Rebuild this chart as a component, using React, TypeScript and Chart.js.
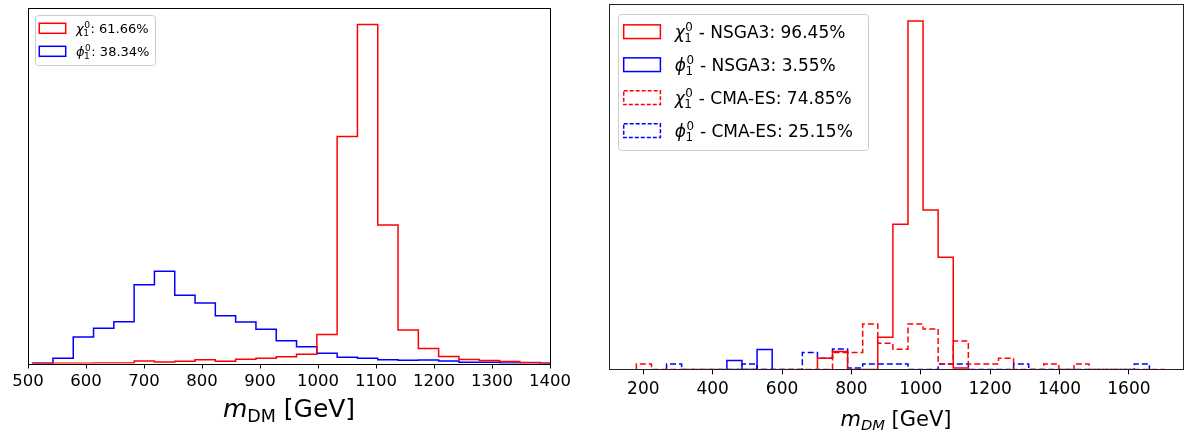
import React, { useEffect, useRef } from "react";
import { Chart, registerables } from "chart.js";

Chart.register(...registerables);

const FONT = '"DejaVu Sans", sans-serif';

// ---------- Left panel data ----------
const leftBinEdges = [508, 543, 578, 613, 648, 683, 718, 753, 788, 823, 858, 893, 928, 963, 998, 1033, 1068, 1103, 1138, 1173, 1208, 1243, 1278, 1313, 1348, 1383, 1418];
const leftChi = [0.3, 0.3, 0.3, 0.4, 0.6, 2.5, 1.5, 2.2, 3.8, 2.2, 4.2, 5.2, 6.8, 9.2, 29, 227, 339, 138.5, 33.5, 15, 7, 4, 3, 2, 1, 0.3];
const leftPhi = [0.3, 5.2, 26.5, 35.2, 41.8, 78.8, 92.2, 68.2, 60.5, 47.8, 41.5, 34.2, 22.8, 16.8, 10.2, 6.2, 5.2, 3.8, 3.2, 3.5, 2.5, 1.2, 1.2, 0.5, 0.5, 0.3];
const leftTicks = [500, 600, 700, 800, 900, 1000, 1100, 1200, 1300, 1400];
const leftSymbols = ["χ", "ϕ"];
const leftTexts = [": 61.66%", ": 38.34%"];

// ---------- Right panel data ----------
const rightBinEdges = [180, 223.5, 267, 310.5, 354, 397.5, 441, 484.5, 528, 571.5, 615, 658.5, 702, 745.5, 789, 832.5, 876, 919.5, 963, 1006.5, 1050, 1093.5, 1137, 1180.5, 1224, 1267.5, 1311, 1354.5, 1398, 1441.5, 1485, 1528.5, 1572, 1615.5, 1659, 1702.5];
const N = null;
const rightChiNsga = [N, N, N, N, N, N, N, N, N, N, N, N, 11.2, 17.8, 0, 0, 32.2, 145.2, 348.5, 159.5, 112.2, 1.5, N, N, N, N, N, N, N, N, N, N, N, N, N];
const rightPhiNsga = [N, N, N, N, N, N, 8.8, 0, 19.8, N, N, N, N, N, N, N, N, N, N, N, N, N, N, N, N, N, N, N, N, N, N, N, N, N, N];
const rightChiCma = [5.5, 0, 0, 0, 0, 0, 0, 0, 0, 0, 0, 0, 0, 16.8, 16.8, 45.5, 26.2, 20.2, 45.5, 40.5, 5.5, 28.5, 5.5, 5.5, 11.2, 0, 0, 5.5, 0, 5.5, 0, 0, 0, 0, 0];
const rightPhiCma = [N, N, 5.5, 0, 0, 0, 0, 5.5, 0, 0, 0, 16.8, 11.2, 20.5, 1.5, 5.5, 5.5, 5.5, 0, 0, 5.5, 5.5, 0, 0, 0, 5.5, 0, 0, 0, 0, 0, 0, 0, 5.5, N];
const rightTicks = [200, 400, 600, 800, 1000, 1200, 1400, 1600];
const rightSymbols = ["χ", "ϕ", "χ", "ϕ"];
const rightTexts = [" - NSGA3: 96.45%", " - NSGA3: 3.55%", " - CMA-ES: 74.85%", " - CMA-ES: 25.15%"];

const xLabelMain = "m";
const xLabelSubLeft = "DM";
const xLabelSubRight = "DM";
const xLabelUnit = " [GeV]";

type Pt = { x: number; y: number };

function stepPoints(edges: number[], values: (number | null)[]): Pt[] {
  let first = -1;
  let last = -1;
  values.forEach((v, i) => {
    if (v !== null) {
      if (first < 0) first = i;
      last = i;
    }
  });
  const pts: Pt[] = [{ x: edges[first], y: 0 }];
  for (let i = first; i <= last; i++) {
    const v = values[i] as number;
    pts.push({ x: edges[i], y: v });
    pts.push({ x: edges[i + 1], y: v });
  }
  pts.push({ x: edges[last + 1], y: 0 });
  return pts;
}

function drawScripted(ctx: CanvasRenderingContext2D, x: number, baseline: number, sym: string, size: number) {
  ctx.font = `italic ${size}px ${FONT}`;
  ctx.fillText(sym, x, baseline);
  const w0 = ctx.measureText(sym).width;
  const s = size * 0.7;
  ctx.font = `${s}px ${FONT}`;
  ctx.fillText("0", x + w0 + 0.5, baseline - size * 0.42);
  ctx.fillText("1", x + w0 - 0.5, baseline + size * 0.24);
  return w0 + ctx.measureText("0").width + 1;
}

const framePlugin = (color: string, lw: number) => ({
  id: "frame",
  afterDatasetsDraw(chart: any) {
    const { ctx, chartArea: a } = chart;
    ctx.save();
    ctx.strokeStyle = color;
    ctx.lineWidth = lw;
    const l = Math.round(a.left) + 0.5;
    const t = Math.round(a.top) + 0.5;
    const r = Math.round(a.right) + 0.5;
    const b = Math.round(a.bottom) + 0.5;
    ctx.strokeRect(l, t, r - l, b - t);
    ctx.restore();
  },
});

type LegendCfg = {
  dx: number; dy: number; w: number; h: number;
  boxDx: number; boxW: number; boxH: number; rows: number[]; textDx: number; size: number;
  entries: { color: string; dash: boolean; sym: string; text: string }[];
};

const legendPlugin = (c: LegendCfg) => ({
  id: "customLegend",
  afterDraw(chart: any) {
    const { ctx, chartArea: a } = chart;
    const x0 = Math.round(a.left + c.dx);
    const y0 = Math.round(a.top + c.dy);
    ctx.save();
    ctx.beginPath();
    (ctx as any).roundRect(x0 + 0.5, y0 + 0.5, c.w, c.h, 3);
    ctx.fillStyle = "rgba(255,255,255,0.8)";
    ctx.fill();
    ctx.strokeStyle = "#cccccc";
    ctx.lineWidth = 1;
    ctx.stroke();
    c.entries.forEach((e, i) => {
      const cy = y0 + c.rows[i];
      ctx.strokeStyle = e.color;
      ctx.lineWidth = 1.5;
      ctx.setLineDash(e.dash ? [4, 2] : []);
      ctx.strokeRect(x0 + c.boxDx, cy - c.boxH / 2, c.boxW, c.boxH);
      ctx.setLineDash([]);
      ctx.fillStyle = "#000";
      ctx.textBaseline = "alphabetic";
      ctx.textAlign = "left";
      const bl = cy + c.size * 0.365;
      const tx = x0 + c.textDx;
      const w = drawScripted(ctx, tx, bl, e.sym, c.size);
      ctx.font = `${c.size}px ${FONT}`;
      ctx.fillText(e.text, tx + w, bl);
    });
    ctx.restore();
  },
});

const xLabelPlugin = (p: { dy: number; size: number; subSize: number; subDy: number; subItalic: boolean; sub: string }) => ({
  id: "xlabel",
  afterDraw(chart: any) {
    const { ctx, chartArea: a } = chart;
    const segs = [
      { t: xLabelMain, f: `italic ${p.size}px ${FONT}`, dy: 0 },
      { t: p.sub, f: `${p.subItalic ? "italic " : ""}${p.subSize}px ${FONT}`, dy: p.subDy },
      { t: xLabelUnit, f: `${p.size}px ${FONT}`, dy: 0 },
    ];
    ctx.save();
    let total = 0;
    const widths = segs.map((s) => {
      ctx.font = s.f;
      const w = ctx.measureText(s.t).width;
      total += w;
      return w;
    });
    let x = (a.left + a.right) / 2 - total / 2;
    const bl = a.bottom + p.dy;
    ctx.fillStyle = "#000";
    ctx.textBaseline = "alphabetic";
    ctx.textAlign = "left";
    segs.forEach((s, i) => {
      ctx.font = s.f;
      ctx.fillText(s.t, x, bl + s.dy);
      x += widths[i];
    });
    ctx.restore();
  },
});

function lineDs(label: string, data: Pt[], color: string, dash: boolean) {
  return {
    label,
    data,
    borderColor: color,
    backgroundColor: "transparent",
    borderWidth: 1.5,
    borderDash: dash ? [6, 3] : [],
    pointRadius: 0,
    fill: false,
    tension: 0,
  };
}

function xScale(min: number, max: number, ticks: number[], pad: number, size: number) {
  return {
    type: "linear",
    min,
    max,
    afterBuildTicks: (ax: any) => {
      ax.ticks = ticks.map((v) => ({ value: v }));
    },
    ticks: {
      color: "#000",
      font: { family: FONT, size },
      padding: pad,
      maxRotation: 0,
      autoSkip: false,
      callback: (v: any) => String(v),
    },
    grid: { display: true, drawOnChartArea: false, drawTicks: true, tickLength: 5, tickColor: "#000", tickWidth: 1 },
    border: { display: false },
  };
}

export default function App() {
  const leftRef = useRef<HTMLCanvasElement>(null);
  const rightRef = useRef<HTMLCanvasElement>(null);

  useEffect(() => {
    const left = new Chart(leftRef.current as HTMLCanvasElement, {
      type: "line",
      data: {
        datasets: [
          lineDs("chi", stepPoints(leftBinEdges, leftChi), "#ff0000", false),
          lineDs("phi", stepPoints(leftBinEdges, leftPhi), "#0000ff", false),
        ],
      },
      options: {
        animation: false,
        responsive: false,
        devicePixelRatio: 1,
        layout: { padding: { left: 28, right: 40, top: 8, bottom: 36.1 } },
        plugins: { legend: { display: false }, tooltip: { enabled: false } },
        scales: {
          x: xScale(500, 1400, leftTicks, 3.8, 16.5) as any,
          y: { display: false, min: 0, max: 355.5 },
        },
      },
      plugins: [
        framePlugin("#000", 1),
        legendPlugin({
          dx: 7, dy: 7, w: 120, h: 50, boxDx: 4.3, boxW: 26.4, boxH: 10, rows: [13.3, 36.3], textDx: 41, size: 13,
          entries: [
            { color: "#ff0000", dash: false, sym: leftSymbols[0], text: leftTexts[0] },
            { color: "#0000ff", dash: false, sym: leftSymbols[1], text: leftTexts[1] },
          ],
        }),
        xLabelPlugin({ dy: 53.2, size: 25, subSize: 17.5, subDy: 5, subItalic: false, sub: xLabelSubLeft }),
      ] as any,
    } as any);

    const right = new Chart(rightRef.current as HTMLCanvasElement, {
      type: "line",
      data: {
        datasets: [
          lineDs("chi NSGA3", stepPoints(rightBinEdges, rightChiNsga), "#ff0000", false),
          lineDs("phi NSGA3", stepPoints(rightBinEdges, rightPhiNsga), "#0000ff", false),
          lineDs("chi CMA-ES", stepPoints(rightBinEdges, rightChiCma), "#ff0000", true),
          lineDs("phi CMA-ES", stepPoints(rightBinEdges, rightPhiCma), "#0000ff", true),
        ],
      },
      options: {
        animation: false,
        responsive: false,
        devicePixelRatio: 1,
        layout: { padding: { left: 19.3, right: 4.3, top: 3.5, bottom: 26.4 } },
        plugins: { legend: { display: false }, tooltip: { enabled: false } },
        scales: {
          x: xScale(102, 1755, rightTicks, 5.4, 17) as any,
          y: { display: false, min: 0, max: 366 },
        },
      },
      plugins: [
        framePlugin("#222", 1),
        legendPlugin({
          dx: 9, dy: 10, w: 250, h: 136, boxDx: 5.7, boxW: 36.7, boxH: 13.7, rows: [17.7, 50.7, 83.7, 116.7], textDx: 56.7, size: 17,
          entries: [
            { color: "#ff0000", dash: false, sym: rightSymbols[0], text: rightTexts[0] },
            { color: "#0000ff", dash: false, sym: rightSymbols[1], text: rightTexts[1] },
            { color: "#ff0000", dash: true, sym: rightSymbols[2], text: rightTexts[2] },
            { color: "#0000ff", dash: true, sym: rightSymbols[3], text: rightTexts[3] },
          ],
        }),
        xLabelPlugin({ dy: 56.5, size: 21, subSize: 14.7, subDy: 3.7, subItalic: true, sub: xLabelSubRight }),
      ] as any,
    } as any);

    return () => {
      left.destroy();
      right.destroy();
    };
  }, []);

  return (
    <div style={{ position: "absolute", left: 0, top: 0, width: 1187, height: 432, background: "#fff" }}>
      <canvas ref={leftRef} width={590} height={432} style={{ position: "absolute", left: 0, top: 0, width: 590, height: 432 }} />
      <canvas ref={rightRef} width={597} height={432} style={{ position: "absolute", left: 590, top: 0, width: 597, height: 432 }} />
    </div>
  );
}
